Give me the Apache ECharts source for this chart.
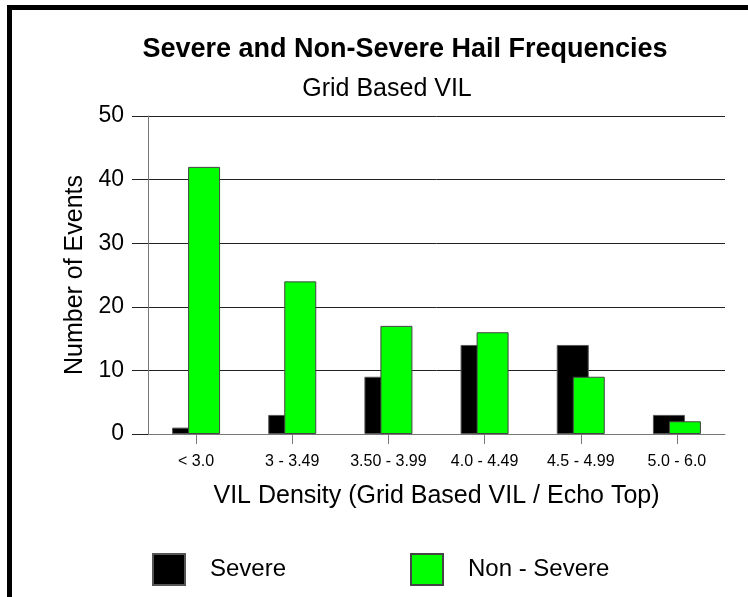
<!DOCTYPE html>
<html>
<head>
<meta charset="utf-8">
<script src="https://cdn.jsdelivr.net/npm/echarts@6/dist/echarts.min.js"></script>
<style>
html,body{margin:0;padding:0;background:#fff;}
#c{width:748px;height:597px;}
</style>
</head>
<body>
<div id="c"></div>
<script>
const categories = ['< 3.0', '3 - 3.49', '3.50 - 3.99', '4.0 - 4.49', '4.5 - 4.99', '5.0 - 6.0'];
const severe = [1, 3, 9, 14, 14, 3];
const nonSevere = [42, 24, 17, 16, 9, 2];
const yTicks = [0, 10, 20, 30, 40, 50];

const FONT = '"Liberation Sans", Arial, sans-serif';
const chart = echarts.init(document.getElementById('c'), null, {renderer: 'canvas'});
chart.setOption({
  backgroundColor: '#ffffff',
  animation: false,
  textStyle: {fontFamily: FONT, color: '#000'},
  title: [
    {text: 'Severe and Non-Severe Hail Frequencies', left: 400, top: 31, textAlign: 'center',
     textStyle: {fontFamily: FONT, fontSize: 27, fontWeight: 'bold', color: '#000'}},
    {text: 'Grid Based VIL', left: 382, top: 72, textAlign: 'center',
     textStyle: {fontFamily: FONT, fontSize: 25, fontWeight: 'normal', color: '#000'}}
  ],
  legend: [
    {data: ['Severe'], left: 147, top: 548, itemWidth: 32, itemHeight: 31, icon: 'rect',
     textStyle: {fontFamily: FONT, fontSize: 24, color: '#000', padding: [0, 0, 0, 20]}},
    {data: ['Non - Severe'], left: 405, top: 548, itemWidth: 32, itemHeight: 31, icon: 'rect',
     textStyle: {fontFamily: FONT, fontSize: 24, color: '#000', padding: [0, 0, 0, 20]}}
  ],
  grid: {left: 148, right: 23, top: 116, bottom: 163, containLabel: false},
  xAxis: {
    type: 'category',
    data: categories,
    name: 'VIL Density (Grid Based VIL / Echo Top)',
    nameLocation: 'middle',
    nameGap: 50,
    nameTextStyle: {fontFamily: FONT, fontSize: 25, color: '#000'},
    axisLine: {show: true, lineStyle: {color: '#777', width: 1}},
    axisTick: {show: true, alignWithLabel: true, length: 10, lineStyle: {color: '#777', width: 1}},
    axisLabel: {fontFamily: FONT, fontSize: 16, color: '#000', margin: 20, interval: 0},
    splitLine: {show: false}
  },
  yAxis: {
    type: 'value',
    min: 0, max: 50, interval: 10,
    name: 'Number of Events',
    nameLocation: 'middle',
    nameGap: 50,
    nameRotate: 90,
    nameTextStyle: {fontFamily: FONT, fontSize: 25, color: '#000'},
    axisLine: {show: true, lineStyle: {color: '#777', width: 1}},
    axisTick: {show: true, length: 16, lineStyle: {color: '#222', width: 1}},
    axisLabel: {fontFamily: FONT, fontSize: 23, color: '#000', margin: 24,
      formatter: function (v) { return yTicks.indexOf(v) >= 0 ? String(v) : ''; }},
    splitLine: {show: true, lineStyle: {color: '#222', width: 1}}
  },
  series: [
    {name: 'Severe', type: 'bar', data: severe, barWidth: 32, barGap: '-50%',
     itemStyle: {color: '#000000', borderColor: '#555', borderWidth: 1}},
    {name: 'Non - Severe', type: 'bar', data: nonSevere, barWidth: 32, barGap: '-50%',
     itemStyle: {color: '#00ff00', borderColor: '#444', borderWidth: 1}}
  ],
  graphic: [
    {type: 'rect', shape: {x: 7, y: 5, width: 741, height: 5}, style: {fill: '#000'}, silent: true},
    {type: 'rect', shape: {x: 7, y: 5, width: 5, height: 592}, style: {fill: '#000'}, silent: true}
  ]
});
</script>
</body>
</html>
